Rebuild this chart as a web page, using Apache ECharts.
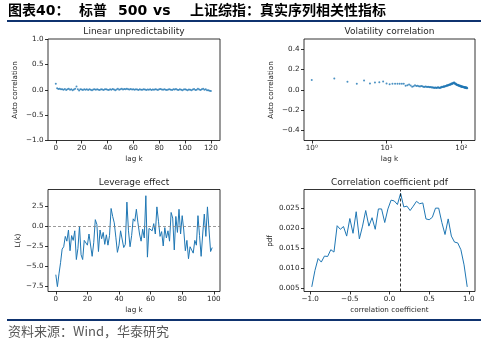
<!DOCTYPE html>
<html><head><meta charset="utf-8">
<script src="https://cdn.jsdelivr.net/npm/echarts@6/dist/echarts.min.js"></script>
<style>html,body{margin:0;padding:0;background:#fff}#c{width:488px;height:343px}</style>
</head><body><div id="c"></div>
<script>
// ---- data ----
const linearAC = [
 0.12, 0.03, 0.015, 0.02, 0.008, 0.012, 0.0, 0.015, -0.005, 0.01,
 0.018, 0.002, 0.01, -0.012, 0.006, 0.022, 0.065, 0.012, -0.015, 0.01,
 0.004, -0.006, 0.012, 0.0, 0.008, -0.004, 0.01, 0.002, -0.008, 0.006,
 0.012, -0.002, 0.008, 0.0, -0.006, 0.01, 0.004, -0.004, 0.008, 0.012,
 0.002, -0.006, 0.01, 0.0, 0.014, 0.004, -0.008, 0.006, 0.018, 0.002,
 0.012, 0.02, 0.006, 0.016, 0.008, 0.022, 0.012, 0.004, 0.014, 0.006,
 0.01, 0.0, 0.012, 0.006, -0.004, 0.008, 0.002, -0.002, 0.01, 0.004,
 -0.004, 0.006, 0.0, 0.01, -0.006, 0.004, 0.0, 0.012, 0.006, -0.004,
 0.008, 0.016, 0.004, -0.002, 0.01, 0.0, -0.006, 0.006, 0.012, 0.002,
 -0.004, 0.01, 0.004, 0.014, 0.0, -0.006, 0.008, 0.002, -0.008, 0.004,
 0.012, -0.002, -0.01, 0.004, 0.0, -0.008, 0.006, 0.014, -0.004, 0.002,
 0.018, 0.006, -0.004, 0.012, 0.02, 0.0, 0.01, -0.008, -0.012, -0.02,
 -0.025
];
const volAC = [
 0.096, 0.11, 0.08, 0.058, 0.09, 0.062, 0.072, 0.075, 0.082, 0.062,
 0.055, 0.058, 0.06, 0.06, 0.058, 0.06, 0.06, 0.04, 0.045, 0.052,
 0.042, 0.03, 0.035, 0.045, 0.038, 0.04, 0.035, 0.032, 0.036, 0.034,
 0.03, 0.028, 0.033, 0.03, 0.027, 0.03, 0.028, 0.024, 0.026, 0.022,
 0.025, 0.02, 0.023, 0.018, 0.022, 0.02, 0.017, 0.021, 0.024, 0.019,
 0.02, 0.018, 0.025, 0.022, 0.03, 0.028, 0.026, 0.035, 0.03, 0.033,
 0.038, 0.035, 0.04, 0.042, 0.045, 0.04, 0.048, 0.05, 0.046, 0.052,
 0.055, 0.05, 0.058, 0.062, 0.056, 0.065, 0.06, 0.07, 0.066, 0.072,
 0.068, 0.06, 0.062, 0.055, 0.058, 0.05, 0.052, 0.048, 0.045, 0.05,
 0.042, 0.046, 0.04, 0.038, 0.042, 0.035, 0.04, 0.033, 0.036, 0.03,
 0.034, 0.028, 0.03, 0.032, 0.026, 0.03, 0.025, 0.028, 0.022, 0.026,
 0.02, 0.025, 0.022, 0.018, 0.024, 0.02, 0.016, 0.022, 0.018, 0.015
];
const leverage = [
 -6.1, -7.6, -6.0, -4.6, -2.9, -2.6, -1.3, -1.9, -0.5, -3.1,
 -1.2, -1.8, -0.6, -4.2, -2.8, 0.0, -3.6, -4.2, -1.8, -1.7,
 -2.4, -1.0, -1.2, -3.8, -2.1, 0.8, 0.2, -3.2, -0.5, -1.6,
 -0.8, -2.3, -1.1, -2.4, -1.2, 2.2, 1.2, 0.4, -1.4, -3.3,
 -2.4, -0.6, -0.7, -2.7, -2.3, 3.0, -0.6, -2.6, -1.2, 0.9,
 0.6, 2.1, 0.4, -1.0, -1.9, -0.4, -1.5, 3.8, -3.9, -0.3,
 -0.1, -0.6, 0.3, -1.0, 2.4, 0.6, -1.3, -0.7, -2.5, -0.2,
 -1.5, -0.6, -1.9, 1.7, 1.0, -3.0, 1.2, -0.8, 2.1, -1.0,
 1.3, -0.5, -3.1, -1.8, -4.1, -2.6, -3.0, -3.4, -1.8, -2.4,
 1.3, -1.2, -3.8, -1.0, 1.5, -1.3, 2.4, -0.5, -3.2, -2.7
];
const pdfX = [
 -0.98, -0.94, -0.90, -0.86, -0.82, -0.78, -0.74, -0.70, -0.66, -0.62,
 -0.58, -0.54, -0.50, -0.46, -0.42, -0.38, -0.34, -0.30, -0.26, -0.22,
 -0.18, -0.14, -0.10, -0.06, -0.02, 0.02, 0.06, 0.10, 0.14, 0.18,
 0.22, 0.26, 0.30, 0.34, 0.38, 0.42, 0.46, 0.50, 0.54, 0.58,
 0.62, 0.66, 0.70, 0.74, 0.78, 0.82, 0.86, 0.90, 0.94, 0.98
];
const pdfY = [
 0.0053, 0.0094, 0.0124, 0.0115, 0.0130, 0.0129, 0.0146, 0.0140, 0.0206, 0.0197,
 0.0204, 0.0180, 0.0224, 0.0187, 0.0241, 0.0173, 0.0205, 0.0244, 0.0205, 0.0226,
 0.0197, 0.0248, 0.0248, 0.0214, 0.0248, 0.0270, 0.0268, 0.0259, 0.0287, 0.0253,
 0.0255, 0.0244, 0.0255, 0.0267, 0.0261, 0.0263, 0.0223, 0.0221, 0.0227, 0.0250,
 0.0250, 0.0214, 0.0184, 0.0223, 0.0180, 0.0165, 0.0163, 0.0146, 0.0108, 0.0053
];
const meanCorr = 0.13;
const ticksLinY = [-1, -0.5, 0, 0.5, 1];
const ticksLagX = [0, 20, 40, 60, 80, 100, 120];
const ticksVolY = [-0.4, -0.2, 0, 0.2, 0.4];
const ticksVolX = [1, 10, 100];
const ticksLevY = [-7.5, -5, -2.5, 0, 2.5];
const ticksLevX = [0, 20, 40, 60, 80, 100];
const ticksPdfY = [0.005, 0.010, 0.015, 0.020, 0.025];
const ticksPdfX = [-1, -0.5, 0, 0.5, 1];

// ---- chart ----
const chart = echarts.init(document.getElementById('c'), null, {renderer: 'canvas'});
const FONT = 'DejaVu Sans';
const TXT = '#262626';
const fmt = d => v => (v < 0 ? '\u2212' : '') + Math.abs(v).toFixed(d);
const sup = {1: '10\u2070', 10: '10\u00b9', 100: '10\u00b2'};

function axis(gi, min, max, ticks, formatter, extra) {
  return Object.assign({
    type: 'value', gridIndex: gi, min: min, max: max,
    axisLine: {show: false, onZero: false},
    axisTick: {show: true, length: 3, customValues: ticks, lineStyle: {color: '#000', width: 0.8}},
    axisLabel: {show: true, customValues: ticks, formatter: formatter, color: TXT, fontSize: 7.2, fontFamily: FONT, margin: 4.5},
    splitLine: {show: false}
  }, extra || {});
}
const gridBase = {show: true, borderColor: '#000', borderWidth: 0.8, backgroundColor: 'transparent', containLabel: false, outerBoundsMode: 'none'};
const grids = [
  Object.assign({left: 48, top: 39, width: 172, height: 101.5}, gridBase),
  Object.assign({left: 304, top: 39, width: 171, height: 101.5}, gridBase),
  Object.assign({left: 48, top: 189.5, width: 172, height: 102}, gridBase),
  Object.assign({left: 304, top: 189.5, width: 171, height: 102}, gridBase)
];
const xAxes = [
  axis(0, -6.05, 127.05, ticksLagX, fmt(0), {position: 'bottom'}),
  axis(1, 0.787, 152.4, ticksVolX, v => sup[Math.round(v)] || String(v), {type: 'log', logBase: 10, position: 'bottom'}),
  axis(2, -4.95, 103.95, ticksLevX, fmt(0), {position: 'bottom'}),
  axis(3, -1.078, 1.078, ticksPdfX, fmt(1), {position: 'bottom'})
];
const yAxes = [
  axis(0, -1, 1, ticksLinY, fmt(1), {position: 'left'}),
  axis(1, -0.5, 0.5, ticksVolY, fmt(1), {position: 'left'}),
  axis(2, -8.21, 4.58, ticksLevY, fmt(1), {position: 'left'}),
  axis(3, 0.00414, 0.02966, ticksPdfY, fmt(3), {position: 'left'})
];
const C = '#1f77b4';
const series = [
  {type: 'scatter', xAxisIndex: 0, yAxisIndex: 0, symbolSize: 2, itemStyle: {color: C},
   data: linearAC.map((v, i) => [i, v])},
  {type: 'scatter', xAxisIndex: 1, yAxisIndex: 1, symbolSize: 2, itemStyle: {color: C},
   data: volAC.map((v, i) => [i + 1, v])},
  {type: 'line', xAxisIndex: 2, yAxisIndex: 2, showSymbol: false, symbol: 'none',
   lineStyle: {color: C, width: 1}, data: leverage.map((v, i) => [i, v]),
   markLine: {silent: true, symbol: 'none', label: {show: false},
     lineStyle: {color: '#808080', type: [3, 2], width: 0.8}, data: [{yAxis: 0}]}},
  {type: 'line', xAxisIndex: 3, yAxisIndex: 3, showSymbol: false, symbol: 'none',
   lineStyle: {color: C, width: 1}, data: pdfX.map((x, i) => [x, pdfY[i]]),
   markLine: {silent: true, symbol: 'none', label: {show: false},
     lineStyle: {color: '#000', type: [3, 2], width: 0.8}, data: [{xAxis: meanCorr}]}}
];
function t(text, x, y, size, opts) {
  return Object.assign({type: 'text', x: x, y: y, silent: true,
    style: {text: text, x: 0, y: 0, fill: TXT, font: size + 'px "' + FONT + '"', align: 'center', verticalAlign: 'middle'}}, opts || {});
}
function ty(text, x, y) {
  return t(text, x, y, 7.2, {rotation: Math.PI / 2});
}
const NAVY = '#0f336f';
const TF = 'bold 14px "DejaVu Sans", "Noto Sans CJK SC"';
function tt(text, x) {
  return {type: 'text', x: x, y: 11, silent: true, style: {text: text, x: 0, y: 0, font: TF, fill: '#000', align: 'left', verticalAlign: 'middle'}};
}
const graphic = [
  tt('图表40：', 8), tt('标普', 79), tt('500', 118), tt('vs', 153),
  tt('上证综指：真实序列相关性指标', 190),
  {type: 'rect', shape: {x: 7, y: 20, width: 474, height: 2}, style: {fill: NAVY}, silent: true},
  {type: 'rect', shape: {x: 7, y: 319, width: 474, height: 2}, style: {fill: NAVY}, silent: true},
  {type: 'text', x: 8, y: 331, silent: true, style: {text: '资料来源：Wind，华泰研究', x: 0, y: 0, font: '13px "Noto Sans CJK SC"', fill: '#595959', align: 'left', verticalAlign: 'middle'}},
  t('Linear unpredictability', 134, 32, 9),
  t('Volatility correlation', 389.5, 32, 9),
  t('Leverage effect', 134, 182.5, 9),
  t('Correlation coefficient pdf', 389.5, 183, 9),
  t('lag k', 134, 159.5, 7.2),
  t('lag k', 389.5, 159.5, 7.2),
  t('lag k', 134, 310, 7.2),
  t('correlation coefficient', 389.5, 310, 7.2),
  ty('Auto correlation', 15, 90),
  ty('Auto correlation', 271, 90),
  ty('L(k)', 18.5, 240.5),
  ty('pdf', 270, 241)
];
chart.setOption({
  animation: false,
  backgroundColor: '#fff',
  grid: grids, xAxis: xAxes, yAxis: yAxes, series: series, graphic: graphic
});
</script>
</body></html>
